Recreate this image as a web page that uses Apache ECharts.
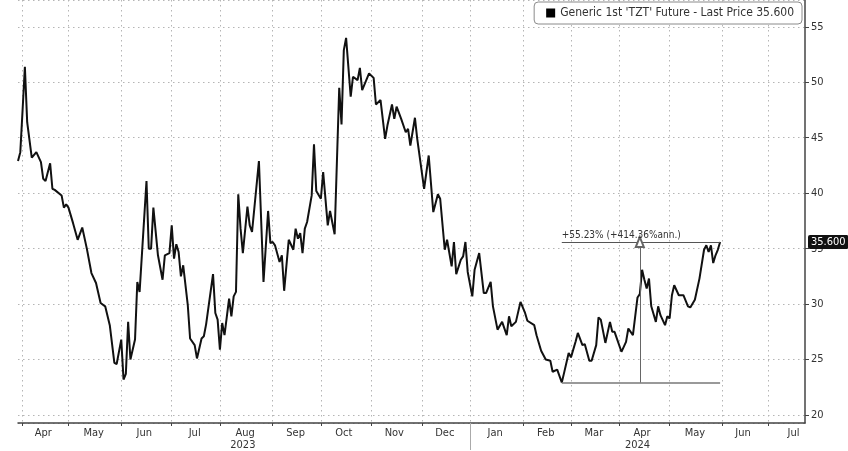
<!DOCTYPE html>
<html><head><meta charset="utf-8">
<script src="https://cdn.jsdelivr.net/npm/echarts@6/dist/echarts.min.js"></script>
<style>html,body{margin:0;padding:0;background:#fff}#c{width:848px;height:451px}</style>
</head><body><div id="c"></div>
<script>
const seriesName = "Generic 1st 'TZT' Future - Last Price 35.600";
const dates = [
'2023-03-30','2023-03-31','2023-04-03','2023-04-04','2023-04-05','2023-04-07','2023-04-11','2023-04-13','2023-04-14','2023-04-17',
'2023-04-19','2023-04-20','2023-04-21','2023-04-26','2023-04-27','2023-04-28','2023-05-01','2023-05-03','2023-05-05','2023-05-09',
'2023-05-11','2023-05-15','2023-05-17','2023-05-19','2023-05-23','2023-05-25','2023-05-29','2023-05-30','2023-06-01','2023-06-02',
'2023-06-05','2023-06-06','2023-06-07','2023-06-09','2023-06-12','2023-06-13','2023-06-16','2023-06-19','2023-06-20','2023-06-21',
'2023-06-23','2023-06-27','2023-06-28','2023-06-30','2023-07-03','2023-07-04','2023-07-05','2023-07-06','2023-07-07','2023-07-10',
'2023-07-12','2023-07-13','2023-07-17','2023-07-18','2023-07-20','2023-07-21','2023-07-24','2023-07-27','2023-07-28','2023-07-31',
'2023-08-01','2023-08-02','2023-08-03','2023-08-07','2023-08-08','2023-08-09','2023-08-10','2023-08-11','2023-08-14','2023-08-15',
'2023-08-17','2023-08-18','2023-08-21','2023-08-24','2023-08-28','2023-08-30','2023-08-31','2023-09-01','2023-09-04','2023-09-06',
'2023-09-07','2023-09-08','2023-09-12','2023-09-14','2023-09-15','2023-09-18','2023-09-19','2023-09-20','2023-09-21','2023-09-22',
'2023-09-26','2023-09-27','2023-09-28','2023-10-02','2023-10-03','2023-10-05','2023-10-06','2023-10-10','2023-10-12','2023-10-13',
'2023-10-16','2023-10-17','2023-10-19','2023-10-20','2023-10-24','2023-10-25','2023-10-26','2023-10-31','2023-11-02','2023-11-03',
'2023-11-07','2023-11-09','2023-11-10','2023-11-14','2023-11-15','2023-11-16','2023-11-20','2023-11-22','2023-11-23','2023-11-24',
'2023-11-28','2023-11-29','2023-12-04','2023-12-06','2023-12-08','2023-12-12','2023-12-13','2023-12-15','2023-12-18','2023-12-20',
'2023-12-21','2023-12-22','2023-12-26','2023-12-27','2023-12-28','2023-12-29','2024-01-02','2024-01-03','2024-01-05','2024-01-09',
'2024-01-10','2024-01-12','2024-01-15','2024-01-17','2024-01-19','2024-01-23','2024-01-24','2024-01-25','2024-01-29','2024-01-31',
'2024-02-02','2024-02-05','2024-02-08','2024-02-09','2024-02-13','2024-02-15','2024-02-19','2024-02-20','2024-02-22','2024-02-26',
'2024-02-27','2024-02-29','2024-03-01','2024-03-05','2024-03-06','2024-03-08','2024-03-11','2024-03-13','2024-03-14','2024-03-18',
'2024-03-19','2024-03-20','2024-03-22','2024-03-26','2024-03-27','2024-03-28','2024-04-02','2024-04-04','2024-04-05','2024-04-09',
'2024-04-11','2024-04-12','2024-04-15','2024-04-16','2024-04-17','2024-04-18','2024-04-19','2024-04-23','2024-04-24','2024-04-25',
'2024-04-29','2024-04-30','2024-05-01','2024-05-02','2024-05-03','2024-05-07','2024-05-09','2024-05-13','2024-05-14','2024-05-16',
'2024-05-20','2024-05-22','2024-05-23','2024-05-24','2024-05-27','2024-05-28','2024-05-29','2024-05-30','2024-05-31'
];
const prices = [
42.9,43.7,47.5,51.4,46.4,43.2,43.7,42.8,41.3,41.1,
42.7,40.4,40.3,39.8,38.7,39.0,38.7,37.3,35.8,36.9,
35.0,32.8,31.9,30.1,29.8,28.1,24.7,24.6,26.8,23.2,
23.7,28.4,25.0,26.8,32.0,31.1,41.1,35.0,35.0,38.7,
34.4,32.2,34.4,34.6,37.1,34.1,35.4,34.7,32.5,33.5,
29.9,26.9,26.3,25.1,26.9,27.1,28.2,32.7,29.2,28.6,
25.9,28.3,27.2,30.5,28.9,30.7,31.1,39.9,36.8,34.6,
38.8,37.1,36.5,42.9,32.0,38.4,35.5,35.6,35.3,33.8,
34.4,31.2,35.8,34.9,36.8,35.9,36.4,34.6,36.8,37.4,
39.8,44.4,40.2,39.5,41.9,37.1,38.4,36.3,49.5,46.2,
52.9,54.0,48.7,50.5,50.2,51.3,49.3,50.8,50.4,48.0,
48.4,44.9,46.1,48.0,46.7,47.8,46.7,45.5,45.8,44.3,
46.8,44.9,40.4,43.4,38.3,39.9,39.5,34.9,35.8,33.4,
35.6,32.7,34.0,34.3,35.6,32.9,30.7,33.1,34.6,31.0,
31.0,32.0,29.8,27.7,28.4,27.2,28.9,28.0,28.4,30.2,
29.2,28.5,28.1,27.2,25.8,25.0,24.9,23.9,24.1,22.93,
23.8,25.6,25.2,26.6,27.4,26.3,26.4,24.9,24.9,26.3,
28.8,28.6,26.5,28.4,27.5,27.5,25.7,26.6,27.8,27.2,
30.6,30.9,33.1,32.2,31.4,32.3,29.8,28.4,29.8,29.0,
28.1,28.9,28.7,30.8,31.7,30.8,30.8,29.8,29.7,30.4,
32.3,34.9,35.3,34.7,35.3,33.7,34.4,34.9,35.6
];
const axisStart = '2023-03-30';
const axisEnd = '2024-07-23';
const monthNames = ['Jan','Feb','Mar','Apr','May','Jun','Jul','Aug','Sep','Oct','Nov','Dec'];
const yTickStep = 5;
const yMin = 19.28, yMax = 57.42;
const lastPrice = 35.6;
const lastPriceText = '35.600';
const lowDate = '2024-02-26', lowPrice = 22.93;
const arrowDate = '2024-04-12';
const endDate = '2024-05-31';
const changeLabel = '+55.23% (+414.36%ann.)';

const FONT = "'DejaVu Sans Condensed','Liberation Sans',sans-serif";
function fmt(d){return d.toISOString().slice(0,10);}
function weekdaysBetween(a,b){
  const out=[];
  for(let d=new Date(a+'T00:00:00Z'); d<=new Date(b+'T00:00:00Z'); d.setUTCDate(d.getUTCDate()+1)){
    const w=d.getUTCDay(); if(w!==0&&w!==6) out.push(fmt(d));
  }
  return out;
}
const cats = weekdaysBetween(axisStart, axisEnd);
const idxOf = {}; cats.forEach((c,i)=>idxOf[c]=i);
const monthStart = new Set(), monthLabel = new Set(), yearStart = new Set(), yearLabel = new Set();
cats.forEach((c,i)=>{ if(i>0 && c.slice(0,7)!==cats[i-1].slice(0,7)) monthStart.add(i);
  if(i>0 && c.slice(0,4)!==cats[i-1].slice(0,4)) yearStart.add(i); });
const months = [...new Set(cats.map(c=>c.slice(0,7)))];
months.forEach(m=>{
  const y=+m.slice(0,4), mo=+m.slice(5,7);
  const last = new Date(Date.UTC(y,mo,0)).getUTCDate();
  const all = weekdaysBetween(m+'-01', m+'-'+String(last).padStart(2,'0'));
  const mid = all[Math.floor((all.length-1)/2)];
  if(idxOf[mid]!==undefined) monthLabel.add(idxOf[mid]);
});
const years = [...new Set(cats.map(c=>c.slice(0,4)))];
years.forEach(y=>{
  const ids = cats.map((c,i)=>c.slice(0,4)===y?i:-1).filter(i=>i>=0);
  yearLabel.add(Math.floor((ids[0]+ids[ids.length-1])/2));
});

const chart = echarts.init(document.getElementById('c'), null, {renderer:'canvas'});
chart.setOption({
  animation:false,
  textStyle:{fontFamily:FONT},
  grid:{left:18,right:43,top:0,bottom:27},
  legend:{
    data:[{name:seriesName, icon:'rect'}],
    right:46, top:2, itemWidth:9, itemHeight:9, itemGap:5,
    backgroundColor:'#fff', borderColor:'#8a8a8a', borderWidth:1, borderRadius:4,
    padding:[5,8,5,12],
    textStyle:{fontFamily:FONT, fontSize:12, color:'#333'}
  },
  xAxis:[{
    type:'category', data:cats, boundaryGap:false,
    axisLine:{show:true, lineStyle:{color:'#444', width:1.5}},
    axisTick:{show:true, interval:(i)=>monthStart.has(i), length:3, lineStyle:{color:'#444'}},
    axisLabel:{interval:(i)=>monthLabel.has(i), formatter:(v)=>monthNames[+v.slice(5,7)-1],
      fontSize:11, color:'#333', margin:5, fontFamily:FONT},
    splitLine:{show:true, interval:(i)=>monthStart.has(i), lineStyle:{color:'#b5b5b5', type:[1.5,3.5], width:1}}
  },{
    type:'category', data:cats, boundaryGap:false, position:'bottom',
    axisLine:{show:false},
    axisTick:{show:true, interval:(i)=>yearStart.has(i), length:27, lineStyle:{color:'#aaa'}},
    axisLabel:{interval:(i)=>yearLabel.has(i), formatter:(v)=>v.slice(0,4),
      fontSize:11, color:'#333', margin:17, fontFamily:FONT},
    splitLine:{show:false}
  }],
  yAxis:{
    type:'value', position:'right', min:yMin, max:yMax, splitNumber:8, scale:true,
    axisLine:{show:true, lineStyle:{color:'#444', width:1.5}},
    axisTick:{show:true, length:4, lineStyle:{color:'#444'}},
    axisLabel:{fontSize:11, color:'#333', margin:6, fontFamily:FONT,
      formatter:(v)=> (Math.abs(v/yTickStep - Math.round(v/yTickStep))<1e-6 ? String(Math.round(v)) : ''),
      showMinLabel:false, showMaxLabel:false},
    splitLine:{show:true, lineStyle:{color:'#b5b5b5', type:[1.5,3.5], width:1}}
  },
  series:[{
    name:seriesName, type:'line', xAxisIndex:0, clip:false,
    data: dates.map((d,i)=>[d, prices[i]]),
    showSymbol:false, symbol:'none',
    itemStyle:{color:'#000'},
    lineStyle:{color:'#111', width:2},
    markLine:{
      silent:true, symbol:['none','none'], animation:false,
      data:[
        [{coord:[lowDate,lastPrice], lineStyle:{color:'#555',width:1,type:'solid'},
          label:{show:true, position:'insideStartTop', formatter:changeLabel, color:'#333', fontSize:10, fontFamily:FONT, distance:[0,2]}},
         {coord:[endDate,lastPrice]}],
        [{coord:[lowDate,lowPrice], lineStyle:{color:'#777',width:1.5,type:'solid'}, label:{show:false}},
         {coord:[endDate,lowPrice]}],
        [{coord:[arrowDate,lowPrice], symbol:'none', lineStyle:{color:'#666',width:1,type:'solid'}, label:{show:false}},
         {coord:[arrowDate,lastPrice], symbol:'emptyTriangle', symbolSize:[8,10]}],
        [{coord:[cats[0],lastPrice], lineStyle:{color:'rgba(0,0,0,0)', width:0}, label:{show:true, position:'end', formatter:lastPriceText,
           backgroundColor:'#111', color:'#fff', fontSize:11, fontFamily:FONT, padding:[2,3,1,3], borderRadius:2, distance:3}},
         {coord:[cats[cats.length-1],lastPrice]}]
      ]
    }
  }]
});
</script>
</body></html>
